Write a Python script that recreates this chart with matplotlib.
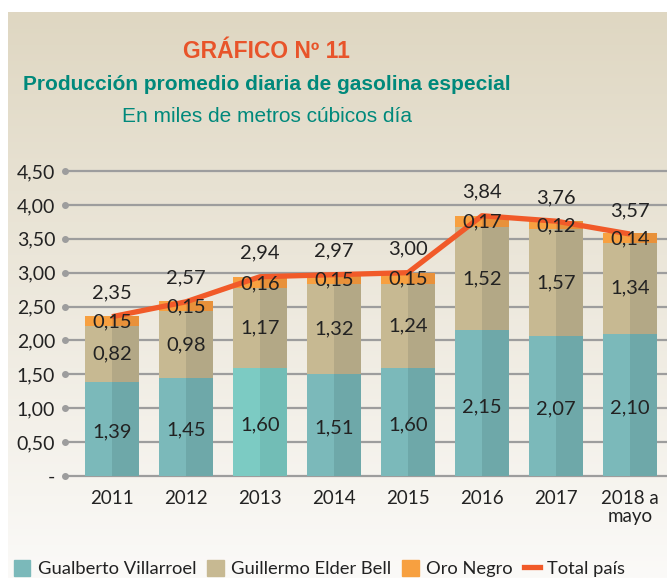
import matplotlib
matplotlib.use("Agg")
import matplotlib.pyplot as plt
import numpy as np
from matplotlib.patches import Patch
from matplotlib.lines import Line2D

plt.rcParams["font.family"] = ["Lato", "DejaVu Sans"]

# ── Data ────────────────────────────────────────────────────────────
years = ["2011", "2012", "2013", "2014", "2015", "2016", "2017", "2018 a\nmayo"]
villarroel = [1.39, 1.45, 1.60, 1.51, 1.60, 2.15, 2.07, 2.10]
elder_bell = [0.82, 0.98, 1.17, 1.32, 1.24, 1.52, 1.57, 1.34]
oro_negro = [0.15, 0.15, 0.16, 0.15, 0.15, 0.17, 0.12, 0.14]
total = [2.35, 2.57, 2.94, 2.97, 3.00, 3.84, 3.76, 3.57]
yticks = [0, 0.5, 1.0, 1.5, 2.0, 2.5, 3.0, 3.5, 4.0, 4.5]

fmt = lambda v: f"{v:.2f}".replace(".", ",")

TEAL_L, TEAL_R = "#7bb9ba", "#6ea8a9"
TEAL13_L, TEAL13_R = "#7ccbc3", "#72bdb6"
BEIGE_L, BEIGE_R = "#c7b992", "#b3a886"
ORANGE_L, ORANGE_R = "#f7a040", "#e8913a"
LINE_C = "#f15a29"
TXT = "#222222"

fig = plt.figure(figsize=(6.67, 5.78), dpi=100)

# ── background gradient ─────────────────────────────────────────────
bg = fig.add_axes([8 / 667, 0, 1 - 8 / 667, 1 - 12 / 578], zorder=-10)
top = np.array([223, 215, 194]) / 255
bot = np.array([251, 250, 248]) / 255
t = np.linspace(0, 1, 256)
grad = top[None, None, :] * (1 - t[:, None, None]) + bot[None, None, :] * t[:, None, None]
bg.imshow(grad, aspect="auto", extent=[0, 1, 0, 1])
bg.axis("off")

# ── titles ──────────────────────────────────────────────────────────
title_font = ["Liberation Sans", "DejaVu Sans"]
fig.text(0.40, 1 - 52 / 578, "GRÁFICO Nº 11", ha="center", va="center",
         fontsize=16.5, fontweight="bold", color="#e8542a", family=title_font)
fig.text(0.40, 1 - 85 / 578, "Producción promedio diaria de gasolina especial",
         ha="center", va="center", fontsize=15, fontweight="bold",
         color="#00897b", family=title_font)
fig.text(0.40, 1 - 116 / 578, "En miles de metros cúbicos día", ha="center",
         va="center", fontsize=15, color="#00897b", family=title_font)

# ── chart ───────────────────────────────────────────────────────────
ax = fig.add_axes([65 / 667, 1 - 476 / 578, 1 - 65 / 667, (476 - 171) / 578])
ax.set_facecolor("none")
x = np.arange(len(years))
w = 0.72

teal_l = [TEAL13_L if y == "2013" else TEAL_L for y in years]
teal_r = [TEAL13_R if y == "2013" else TEAL_R for y in years]
base2 = np.array(villarroel)
base3 = base2 + np.array(elder_bell)

for off, cols in [(-w / 4, (teal_l, BEIGE_L, ORANGE_L)), (w / 4, (teal_r, BEIGE_R, ORANGE_R))]:
    ax.bar(x + off, villarroel, w / 2, color=cols[0], zorder=2)
    ax.bar(x + off, elder_bell, w / 2, bottom=base2, color=cols[1], zorder=2)
    ax.bar(x + off, oro_negro, w / 2, bottom=base3, color=cols[2], zorder=2)

ax.plot(x, total, color=LINE_C, lw=3.8, zorder=3, solid_capstyle="butt")

lab = dict(ha="center", va="center", fontsize=14.5, color=TXT, zorder=4)
for i in x:
    ax.text(i, villarroel[i] / 2 - 0.05, fmt(villarroel[i]), **lab)
    ax.text(i, base2[i] + elder_bell[i] / 2, fmt(elder_bell[i]), **lab)
    ax.text(i, base3[i] + oro_negro[i] / 2 - 0.01, fmt(oro_negro[i]), **lab)
    ax.annotate(fmt(total[i]), (i, total[i]), xytext=(0, 17), textcoords="offset points",
                **lab)

ax.set_xlim(-0.635, 7.5)
ax.set_ylim(0, 4.5)
ax.set_yticks(yticks)
ax.set_yticklabels(["-"] + [fmt(v) for v in yticks[1:]], fontsize=14, color=TXT)
ax.set_xticks(x)
ax.set_xticklabels(years, fontsize=13.5, color=TXT, linespacing=1.05)
ax.tick_params(axis="x", length=0, pad=10)
ax.tick_params(axis="y", length=0, pad=7)
for v in yticks:
    ax.axhline(v, color="#9d9d9d", lw=1.6, zorder=1, clip_on=False)
ax.plot([-0.635] * len(yticks), yticks, "o", color="#9d9d9d", ms=4, clip_on=False, zorder=1)
for s in ax.spines.values():
    s.set_visible(False)

# ── legend ──────────────────────────────────────────────────────────
handles = [
    Patch(color="#7bb9ba"),
    Patch(color="#c7b992"),
    Patch(color="#f7a040"),
    Line2D([], [], color=LINE_C, lw=3.8),
]
labels = ["Gualberto Villarroel", "Guillermo Elder Bell", "Oro Negro", "Total país"]
fig.legend(handles, labels, ncol=4, loc="center left", bbox_to_anchor=(-0.004, 0.016),
           frameon=False, fontsize=13.2, handlelength=0.9, handleheight=0.9,
           handletextpad=0.4, columnspacing=0.6, labelcolor=TXT)

fig.savefig("out.png", dpi=100)
